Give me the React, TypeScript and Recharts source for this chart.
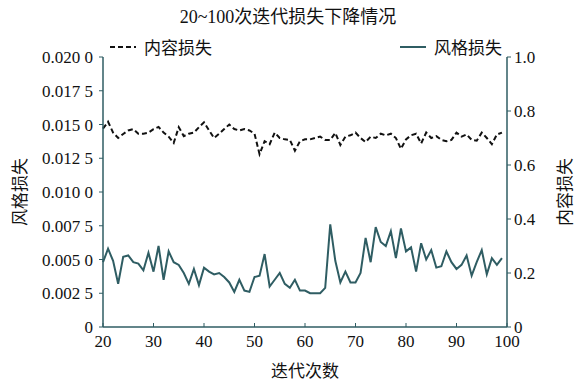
import { CartesianGrid, Label, Legend, Line, LineChart, XAxis, YAxis } from "recharts";

const iterations = Array.from({ length: 80 }, (_, i) => 20 + i);

const styleLoss = [
  0.0048, 0.0058, 0.0049, 0.0032, 0.0052, 0.0053, 0.0048, 0.0047, 0.0042, 0.0055,
  0.0041, 0.006, 0.0035, 0.0056, 0.0048, 0.0046, 0.004, 0.0032, 0.0043, 0.0031,
  0.0044, 0.0041, 0.0039, 0.004, 0.0037, 0.0033, 0.0026, 0.0035, 0.0027, 0.0026,
  0.0037, 0.0038, 0.0054, 0.003, 0.0035, 0.004, 0.0032, 0.0029, 0.0035, 0.0027,
  0.0027, 0.0025, 0.0025, 0.0025, 0.0029, 0.0076, 0.0049, 0.0033, 0.0041, 0.0033,
  0.0033, 0.004, 0.0066, 0.0048, 0.0074, 0.0063, 0.006, 0.0071, 0.0051, 0.0073,
  0.0056, 0.0059, 0.0041, 0.0062, 0.005, 0.0057, 0.0044, 0.0045, 0.0056, 0.0048,
  0.0043, 0.0046, 0.0053, 0.0038, 0.0048, 0.0057, 0.0039, 0.0051, 0.0046, 0.0051,
];

const contentLoss = [
  0.735, 0.76, 0.72, 0.7, 0.715, 0.728, 0.733, 0.716, 0.716, 0.72,
  0.733, 0.741, 0.72, 0.705, 0.682, 0.74, 0.707, 0.716, 0.72, 0.74,
  0.758, 0.728, 0.7, 0.716, 0.733, 0.75, 0.733, 0.728, 0.733, 0.728,
  0.716, 0.64, 0.688, 0.677, 0.72, 0.7, 0.695, 0.693, 0.653, 0.688,
  0.695, 0.695, 0.7, 0.705, 0.693, 0.693, 0.719, 0.674, 0.705, 0.71,
  0.72, 0.7, 0.685, 0.705, 0.7, 0.716, 0.71, 0.716, 0.7, 0.66,
  0.695, 0.71, 0.716, 0.68, 0.72, 0.7, 0.707, 0.693, 0.688, 0.693,
  0.72, 0.705, 0.713, 0.693, 0.69, 0.72, 0.7, 0.677, 0.713, 0.72,
];

const xTicks = [20, 30, 40, 50, 60, 70, 80, 90, 100];
const leftTicks = [0, 0.0025, 0.005, 0.0075, 0.01, 0.0125, 0.015, 0.0175, 0.02];
const rightTicks = [0, 0.2, 0.4, 0.6, 0.8, 1.0];

const data = iterations.map((it, i) => ({ it, style: styleLoss[i], content: contentLoss[i] }));

const FONT = "'Liberation Serif', 'Noto Sans CJK SC', serif";
const AXIS = "#2f5d63";
const labelStyle = { fill: "#111", fontSize: 17, textAnchor: "middle" as const };

// 0.0175 -> "0.017 5"
const fmtLeft = (v: number) => {
  if (v === 0) return "0";
  const s = v.toFixed(4);
  return s.slice(0, 5) + " " + s.slice(5);
};
const fmtRight = (v: number) => (v === 0 ? "0" : v.toFixed(1));

const tickText = { fill: "#111", fontSize: 17, fontFamily: "Liberation Serif", fontWeight: 400 };

function LegendRow() {
  return (
    <div style={{ display: "flex", justifyContent: "space-between", fontSize: 17, color: "#111" }}>
      <span style={{ display: "flex", alignItems: "center" }}>
        <svg width="26" height="10" style={{ marginRight: 8 }}>
          <line x1="0" y1="5" x2="26" y2="5" stroke="#111" strokeWidth="2" strokeDasharray="5 3" />
        </svg>
        内容损失
      </span>
      <span style={{ display: "flex", alignItems: "center" }}>
        <svg width="26" height="10" style={{ marginRight: 8 }}>
          <line x1="0" y1="5" x2="26" y2="5" stroke={AXIS} strokeWidth="2" />
        </svg>
        风格损失
      </span>
    </div>
  );
}

export default function App() {
  return (
    <div
      style={{ position: "absolute", left: 0, top: 0, width: 582, height: 383, background: "#fff", fontFamily: FONT }}
    >
      <style>{`.recharts-cartesian-axis-tick-value, .recharts-cartesian-axis-tick text { font-family: 'Liberation Serif', serif !important; }`}</style>
      <div
        style={{
          position: "absolute",
          top: 2,
          left: 88,
          width: 400,
          textAlign: "center",
          fontSize: 18,
          color: "#111",
        }}
      >
        20~100次迭代损失下降情况
      </div>
      <LineChart width={582} height={383} data={data} margin={{ top: 32, right: 0, bottom: 0, left: 0 }}>
        <CartesianGrid stroke="none" />
        <XAxis
          dataKey="it"
          type="number"
          domain={[20, 100]}
          ticks={xTicks}
          height={56}
          tick={tickText}
          tickSize={-4}
          tickMargin={12}
          axisLine={{ stroke: AXIS, strokeWidth: 1.5 }}
          tickLine={{ stroke: AXIS }}
          interval={0}
        >
          <Label value="迭代次数" position="insideBottom" offset={6} style={labelStyle} />
        </XAxis>
        <YAxis
          yAxisId="left"
          width={103}
          domain={[0, 0.02]}
          ticks={leftTicks}
          tickFormatter={fmtLeft}
          tick={tickText}
          tickSize={4}
          tickMargin={6}
          axisLine={{ stroke: AXIS, strokeWidth: 1.5 }}
          tickLine={{ stroke: AXIS }}
          interval={0}
        >
          <Label value="风格损失" angle={-90} position="insideLeft" offset={20} style={labelStyle} />
        </YAxis>
        <YAxis
          yAxisId="right"
          orientation="right"
          width={75}
          domain={[0, 1]}
          ticks={rightTicks}
          tickFormatter={fmtRight}
          tick={tickText}
          tickSize={4}
          tickMargin={3}
          axisLine={{ stroke: AXIS, strokeWidth: 1.5 }}
          tickLine={{ stroke: AXIS }}
          interval={0}
        >
          <Label value="内容损失" angle={-90} position="insideRight" offset={17} style={labelStyle} />
        </YAxis>
        <Legend
          verticalAlign="top"
          content={() => <LegendRow />}
          wrapperStyle={{ top: 34, left: 110, width: 392 }}
        />
        <Line
          yAxisId="right"
          dataKey="content"
          stroke="#111"
          strokeWidth={2}
          strokeDasharray="5 3"
          dot={false}
          isAnimationActive={false}
        />
        <Line yAxisId="left" dataKey="style" stroke={AXIS} strokeWidth={2} dot={false} isAnimationActive={false} />
      </LineChart>
    </div>
  );
}
